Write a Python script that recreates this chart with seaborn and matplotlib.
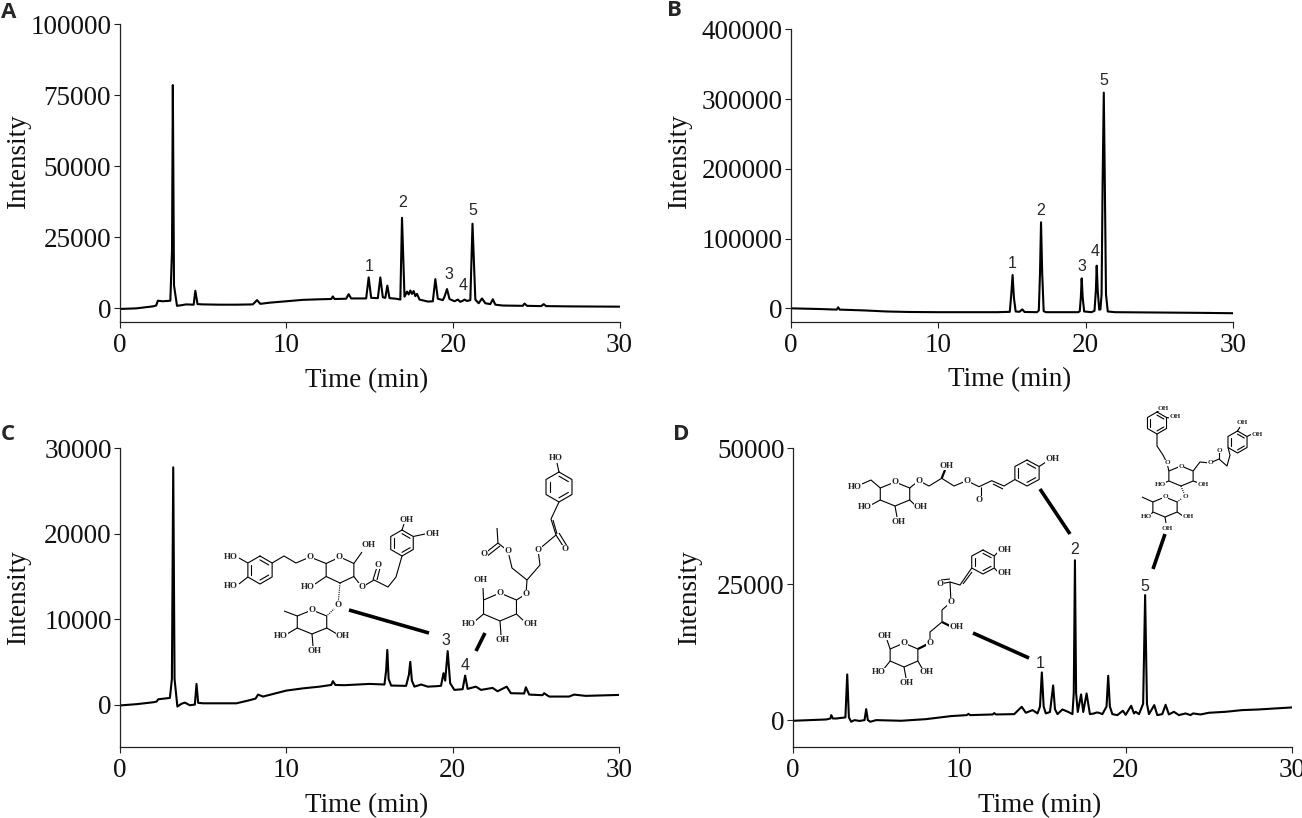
import numpy as np
import pandas as pd
import matplotlib
matplotlib.use("Agg")
import matplotlib.pyplot as plt
import seaborn as sns

# chromatogram traces: (time min, intensity)
trace_a = [(0.0, -300), (1.0, -100), (2.0, 600), (2.2, 900), (2.3, 2600), (2.6, 2400),
           (3.05, 2600), (3.15, 20000), (3.2, 78500), (3.27, 8000), (3.45, 800), (3.7, 1000),
           (4.0, 1300), (4.45, 1200), (4.55, 6100), (4.68, 1400), (5.0, 1300), (6.0, 1200),
           (7.0, 1200), (8.0, 1300), (8.25, 2800), (8.45, 1500), (9.0, 1900), (10.0, 2400),
           (11.0, 2900), (12.0, 3100), (12.7, 3200), (12.8, 4100), (12.9, 3200), (13.6, 3300),
           (13.75, 4900), (13.9, 3400), (14.8, 3400), (14.95, 10800), (15.1, 3600), (15.5, 3500),
           (15.65, 10800), (15.8, 3800), (15.95, 3600), (16.07, 7900), (16.2, 3500), (16.6, 3300),
           (16.85, 3000), (16.95, 31800), (17.1, 4000), (17.25, 5800), (17.35, 4800), (17.45, 6200),
           (17.55, 5000), (17.65, 6000), (17.75, 4200), (17.85, 5000), (18.0, 3000), (18.5, 2300),
           (18.8, 2400), (18.95, 10200), (19.1, 3300), (19.4, 2800), (19.5, 4000), (19.65, 6700),
           (19.8, 3200), (20.1, 2400), (20.3, 3000), (20.45, 2200), (20.6, 2600), (20.7, 3000),
           (20.85, 2500), (21.05, 2800), (21.18, 29700), (21.35, 3000), (21.55, 1700), (21.75, 3400),
           (21.95, 1700), (22.25, 1400), (22.4, 3100), (22.55, 1200), (23.0, 900), (24.2, 800),
           (24.3, 1600), (24.45, 800), (25.3, 700), (25.45, 1400), (25.6, 700), (27.0, 600),
           (30.0, 500)]

trace_b = [(0, 0), (2, -1000), (3.1, -1800), (3.2, 1500), (3.3, -1800), (5, -3000), (6.5, -4500),
           (8, -5200), (10, -5500), (14, -5500), (14.85, -5000), (14.95, 20000), (15.04, 47800),
           (15.13, 15000), (15.25, -4500), (15.5, -5000), (15.7, -1500), (15.85, -5200),
           (16.7, -5500), (16.82, -3000), (16.9, 50000), (16.97, 123300), (17.05, 50000),
           (17.15, -4000), (17.3, -5500), (19.5, -5500), (19.6, -4000), (19.67, 15000),
           (19.73, 43000), (19.8, 15000), (19.9, -4500), (20.4, -5500), (20.6, -3500),
           (20.69, 25000), (20.75, 61200), (20.82, 25000), (20.92, -2000), (21.0, -1500),
           (21.08, 20000), (21.15, 180000), (21.23, 309200), (21.3, 180000), (21.38, 20000),
           (21.5, -4500), (22, -5500), (25, -6000), (28, -6500), (30, -7000)]

trace_c = [(0, -100), (1, 50), (2, 270), (2.2, 350), (2.3, 620), (3.0, 780), (3.12, 3000),
           (3.2, 27770), (3.28, 3000), (3.45, -230), (3.7, 100), (3.9, 230), (4.2, -80), (4.5, 0),
           (4.6, 2420), (4.7, 200), (5.0, 150), (7.0, 150), (7.7, 470), (8.15, 700), (8.3, 1170),
           (8.6, 940), (10.0, 1640), (11.0, 1900), (12.0, 2100), (12.7, 2300), (12.8, 2740),
           (12.95, 2300), (13.5, 2270), (15.0, 2420), (15.9, 2350), (16.0, 4000), (16.07, 6400),
           (16.15, 3000), (16.3, 2230), (17.2, 2190), (17.37, 3500), (17.45, 5000), (17.55, 2800),
           (17.7, 2100), (18.1, 2350), (18.5, 2100), (19.0, 2150), (19.3, 2200), (19.45, 3680),
           (19.55, 2800), (19.7, 6260), (19.85, 2500), (20.1, 1720), (20.6, 1800), (20.75, 3400),
           (20.9, 1840), (21.4, 2100), (21.7, 1720), (22.4, 1950), (22.7, 1560), (23.25, 2100),
           (23.5, 1330), (24.3, 1300), (24.4, 2030), (24.6, 1170), (25.4, 1100), (25.5, 1330),
           (25.8, 940), (27.0, 940), (27.3, 1170), (28.0, 1020), (30.0, 1130)]

trace_d = [(0, -120), (2.0, 120), (2.25, 300), (2.3, 920), (2.4, 300), (2.6, 300), (3.15, 500),
           (3.26, 8400), (3.36, 500), (3.5, -300), (3.7, 0), (4.0, -150), (4.3, 0), (4.4, 2020),
           (4.5, 0), (4.65, -300), (5.0, 0), (6.5, -120), (8.0, 180), (9.5, 740), (10.45, 920),
           (10.55, 1150), (10.65, 920), (12.0, 1040), (12.1, 1290), (12.2, 1040), (13.3, 1100),
           (13.75, 2450), (14.0, 1350), (14.4, 1840), (14.7, 1230), (14.85, 2500), (14.96, 8770),
           (15.07, 2500), (15.2, 1230), (15.45, 1500), (15.64, 6380), (15.75, 2000), (15.9, 1100),
           (16.2, 1960), (16.55, 1500), (16.8, 1100), (16.88, 5000), (16.95, 29400), (17.02, 5000),
           (17.12, 1500), (17.32, 4720), (17.45, 1500), (17.65, 4900), (17.85, 1100), (18.1, 1230),
           (18.25, 1400), (18.4, 1350), (18.6, 1100), (18.85, 2500), (18.95, 8150), (19.05, 2500),
           (19.2, 1100), (19.5, 920), (19.83, 1720), (20.0, 980), (20.33, 2640), (20.5, 1230),
           (20.6, 1530), (20.8, 1100), (21.05, 3000), (21.17, 23000), (21.28, 3000), (21.4, 1100),
           (21.72, 2760), (21.9, 920), (22.2, 1100), (22.4, 2820), (22.6, 1040), (22.9, 1530),
           (23.2, 920), (23.6, 1230), (23.9, 920), (24.05, 1230), (24.5, 1040), (25.0, 1350),
           (26.0, 1530), (27.0, 1840), (28.0, 1960), (29.0, 2150), (30.0, 2330)]

# peak numbers (time, intensity, label)
peaks_a = [(15.0, 14700, "1"), (17.0, 37300, "2"), (19.75, 12000, "3"), (20.6, 7900, "4"), (21.2, 34200, "5")]
peaks_b = [(14.99, 64500, "1"), (16.97, 140000, "2"), (19.73, 59700, "3"), (20.66, 81200, "4"), (21.2, 326400, "5")]
peaks_c = [(19.6, 7500, "3"), (20.75, 4580, "4")]
peaks_d = [(14.89, 10430, "1"), (16.95, 31300, "2"), (21.17, 24540, "5")]

xticks = [0, 10, 20, 30]
yticks_a = [0, 25000, 50000, 75000, 100000]
yticks_b = [0, 100000, 200000, 300000, 400000]
yticks_c = [0, 10000, 20000, 30000]
yticks_d = [0, 25000, 50000]

sns.set_theme(style="ticks")
plt.rcParams['font.family'] = ['Liberation Serif', 'DejaVu Serif']

W, H = 1302, 818
fig = plt.figure(figsize=(W / 100, H / 100), dpi=100)


def px_axes(left, top, right, bottom):
    return fig.add_axes([left / W, 1 - bottom / H, (right - left) / W, (bottom - top) / H])


panels = [
    ("A", px_axes(119.5, 24, 619.5, 322.3), trace_a, peaks_a, yticks_a, (-5000, 100000), (-0.177, 0.54), (1, 12)),
    ("B", px_axes(791, 29.3, 1233, 322.3), trace_b, peaks_b, yticks_b, (-20000, 400000), (-0.224, 0.55), (667, 11)),
    ("C", px_axes(120, 448.3, 619, 747.3), trace_c, peaks_c, yticks_c, (-5000, 30000), (-0.178, 0.5), (1, 435)),
    ("D", px_axes(793, 448.3, 1292, 747.3), trace_d, peaks_d, yticks_d, (-5000, 50000), (-0.182, 0.5), (673, 435)),
]

for letter, ax, trace, peaks, yt, ylim, ylab_xy, let_xy in panels:
    df = pd.DataFrame(trace, columns=["time", "intensity"])
    sns.lineplot(data=df, x="time", y="intensity", ax=ax, color="black", lw=1.5,
                 estimator=None, sort=False)
    for t, v, s in peaks:
        ax.text(t, v, s, ha="center", va="center", fontsize=11.5,
                family=["Liberation Sans", "DejaVu Sans"])
    ax.set_xlim(0, 30)
    ax.set_ylim(*ylim)
    ax.set_xticks(xticks)
    ax.set_xticklabels([str(v) for v in xticks])
    ax.set_yticks(yt)
    ax.set_yticklabels([str(v) for v in yt])
    ax.spines["top"].set_visible(False)
    ax.spines["right"].set_visible(False)
    for sp in ("left", "bottom"):
        ax.spines[sp].set_linewidth(0.9)
        ax.spines[sp].set_color("#222222")
    ax.tick_params(axis="both", direction="out", length=4, width=0.8, color="#222222",
                   labelsize=19.5, labelcolor="#111111")
    ax.tick_params(axis="x", pad=4)
    ax.tick_params(axis="y", pad=2)
    ax.set_xlabel("Time (min)", fontsize=19.5, color="#111111")
    ax.set_ylabel("Intensity", fontsize=19.5, color="#111111")
    ax.xaxis.set_label_coords(0.495, -0.153)
    ax.yaxis.set_label_coords(*ylab_xy)
    ax.set_facecolor("white")
    fig.text(let_xy[0] / W, 1 - let_xy[1] / H, letter, fontsize=16, fontweight="bold",
             family=["Open Sans", "DejaVu Sans"], ha="left", va="center")

# overlay in pixel coordinates for the structure sketches
ov = fig.add_axes([0, 0, 1, 1], zorder=5)
ov.set_xlim(0, W)
ov.set_ylim(H, 0)
ov.axis("off")
ov.patch.set_alpha(0)

LW = 0.8


def ring(cx, cy, rx, ry, aromatic=False):
    ang = np.deg2rad([90, 30, -30, -90, -150, 150, 90])
    xs = cx + rx * np.cos(ang)
    ys = cy - ry * np.sin(ang)
    ov.plot(xs, ys, color="black", lw=LW)
    if aromatic:
        for k in (0, 2, 4):
            x0 = cx + 0.72 * (xs[k] - cx)
            y0 = cy + 0.72 * (ys[k] - cy)
            x1 = cx + 0.72 * (xs[k + 1] - cx)
            y1 = cy + 0.72 * (ys[k + 1] - cy)
            ov.plot([x0, x1], [y0, y1], color="black", lw=LW)
    return list(zip(xs[:6], ys[:6]))


def bond(*pts, lw=LW, ls="-"):
    ov.plot([p[0] for p in pts], [p[1] for p in pts], color="black", lw=lw, ls=ls,
            solid_capstyle="butt")


def atom(x, y, s, fs=6.5):
    ov.text(x, y, s, ha="center", va="center", fontsize=fs, fontweight="bold",
            family=["Liberation Serif", "DejaVu Serif"], zorder=6,
            bbox=dict(fc="white", ec="none", pad=0.2))


# --- panel C, compound 3 ---
r1 = ring(260, 570, 14, 14, True)
bond(r1[5], (239, 558)); atom(231, 557, "HO")
bond(r1[4], (239, 584)); atom(231, 586, "HO")
g = ring(340, 570, 16, 13)
bond(r1[1], (284, 556), (296, 563), (310, 557), g[5])
atom(310, 557, "O"); atom(339, 557, "O")
bond(g[1], (362, 552)); atom(369, 545, "OH")
bond(g[4], (315, 584)); atom(308, 587, "HO")
r2 = ring(402, 543, 13, 13, True)
bond(g[2], (362, 587), (374, 580), (388, 587), (396, 577), r2[3])
bond((373, 580), (377, 567)); bond((377, 580), (380, 568))
atom(362, 587, "O"); atom(378, 565, "O")
bond(r2[0], (404, 524)); atom(406, 520, "OH")
bond(r2[1], (425, 534)); atom(433, 534, "OH")
rh = ring(312, 622, 17, 12)
bond(g[3], (338, 605), rh[1], ls=(0, (1, 1)))
atom(338, 605, "O"); atom(312, 610, "O")
bond(rh[5], (284, 611))
bond(rh[4], (287, 634)); atom(281, 636, "HO")
bond(rh[2], (337, 634)); atom(343, 636, "OH")
bond(rh[3], (313, 646)); atom(314, 651, "OH")

# --- panel C, compound 4 ---
r3 = ring(559, 487, 15, 15, True)
bond(r3[0], (557, 463)); atom(556, 458, "HO")
bond(r3[3], (551, 519), (556, 535), (538, 550), (540, 565), (527, 580), (526, 594))
bond((553, 520), (557, 534))
bond((556, 535), (565, 549)); bond((559, 533), (567, 546))
atom(565, 549, "O"); atom(538, 550, "O")
bond((527, 580), (512, 568), (508, 551), (498, 543), (497, 528))
bond((498, 543), (484, 554)); bond((500, 546), (486, 557))
atom(508, 551, "O"); atom(484, 554, "O")
g2 = ring(500, 607, 19, 14)
bond(g2[1], (526, 594)); atom(526, 594, "O"); atom(500, 593, "O")
bond(g2[5], (483, 588)); atom(480, 580, "OH")
bond(g2[4], (474, 622)); atom(469, 624, "HO")
bond(g2[2], (525, 622)); atom(530, 624, "OH")
bond(g2[3], (501, 635)); atom(502, 640, "OH")

# --- panel D, compound 2 ---
g3 = ring(895, 494, 17, 12)
atom(895, 482, "O")
bond(g3[5], (871, 480), (862, 484)); atom(855, 487, "HO")
bond(g3[4], (871, 505)); atom(865, 507, "HO")
bond(g3[2], (915, 505)); atom(921, 507, "OH")
bond(g3[3], (897, 517)); atom(898, 522, "OH")
r4 = ring(1027, 473, 14, 13, True)
bond(g3[1], (918.8, 480.7), (929, 486), (941.7, 478.3), (954, 486), (966.7, 480.7),
     (979, 486.7), (991.7, 480.7), (1004, 486), r4[4])
bond((941.7, 478.3), (945, 470), lw=1.6)
bond((981, 487), (981, 498))
bond((993, 484), (1003, 489))
atom(918.8, 480.7, "O"); atom(946, 466, "OH"); atom(966.7, 480.7, "O"); atom(979, 500, "O")
bond(r4[1], (1046, 462)); atom(1052, 459, "OH")

# --- panel D, compound 1 ---
r5 = ring(983, 562, 13, 12, True)
bond(r5[1], (998, 552)); atom(1004, 550, "OH")
bond(r5[2], (998, 572)); atom(1004, 573, "OH")
bond(r5[4], (960, 585), (950, 582), (951, 602), (942, 610), (942, 622), (930, 632), (930, 643))
bond((963, 584), (972, 572))
bond((950, 582), (940, 584)); bond((950, 579), (941, 580))
bond((942, 622), (950, 626), lw=1.6)
atom(940, 584, "O"); atom(951, 602, "O"); atom(956, 627, "OH"); atom(930, 643, "O")
g4 = ring(904, 655, 16, 12)
bond((930, 643), g4[1], lw=1.6)
atom(904, 643, "O")
bond(g4[5], (887, 640)); atom(885, 636, "OH")
bond(g4[4], (883, 670)); atom(879, 672, "HO")
bond(g4[2], (923, 670)); atom(927, 672, "OH")
bond(g4[3], (906, 678)); atom(907, 683, "OH")

# --- panel D, compound 5 ---
fs5 = 5.2
r6 = ring(1157, 423, 11, 11, True)
bond(r6[1], (1170, 418)); atom(1175, 417, "OH", fs5)
bond(r6[0], (1160, 410)); atom(1163, 408, "OH", fs5)
g5 = ring(1181, 476, 14, 10)
bond(r6[3], (1157, 446), (1163, 455), (1167, 463), g5[5])
atom(1167, 463, "O", fs5); atom(1181, 466, "O", fs5)
bond(g5[4], (1164, 483)); atom(1160, 484, "HO", fs5)
bond(g5[2], (1199, 483)); atom(1203, 484, "OH", fs5)
r7 = ring(1237.5, 442, 11, 11, True)
bond(g5[1], (1200, 462), (1210, 463), (1219, 459), (1227, 466), (1230, 455), r7[4])
bond((1219, 459), (1219, 451))
atom(1210, 463, "O", fs5); atom(1219, 450, "O", fs5)
bond(r7[0], (1240, 427)); atom(1242, 423, "OH", fs5)
bond(r7[1], (1252, 434)); atom(1257, 434, "OH", fs5)
rh2 = ring(1165, 507, 14, 10)
bond(g5[3], (1185, 496), rh2[1], ls=(0, (1, 1)))
atom(1185, 496, "O", fs5); atom(1165, 497, "O", fs5)
bond(rh2[5], (1142, 497))
bond(rh2[4], (1150, 516)); atom(1146, 517, "HO", fs5)
bond(rh2[2], (1183, 516)); atom(1188, 517, "OH", fs5)
bond(rh2[3], (1166, 523)); atom(1167, 528, "OH", fs5)

# leader lines from structures to peaks
for (x0, y0), (x1, y1) in [((349, 610), (429, 633)), ((476, 651), (485, 633)),
                           ((973, 633), (1029, 658)), ((1040, 489), (1070, 534)),
                           ((1165, 534), (1153, 569))]:
    ov.plot([x0, x1], [y0, y1], color="black", lw=2.6, solid_capstyle="butt")

fig.savefig("out.png", dpi=100, facecolor="white")
